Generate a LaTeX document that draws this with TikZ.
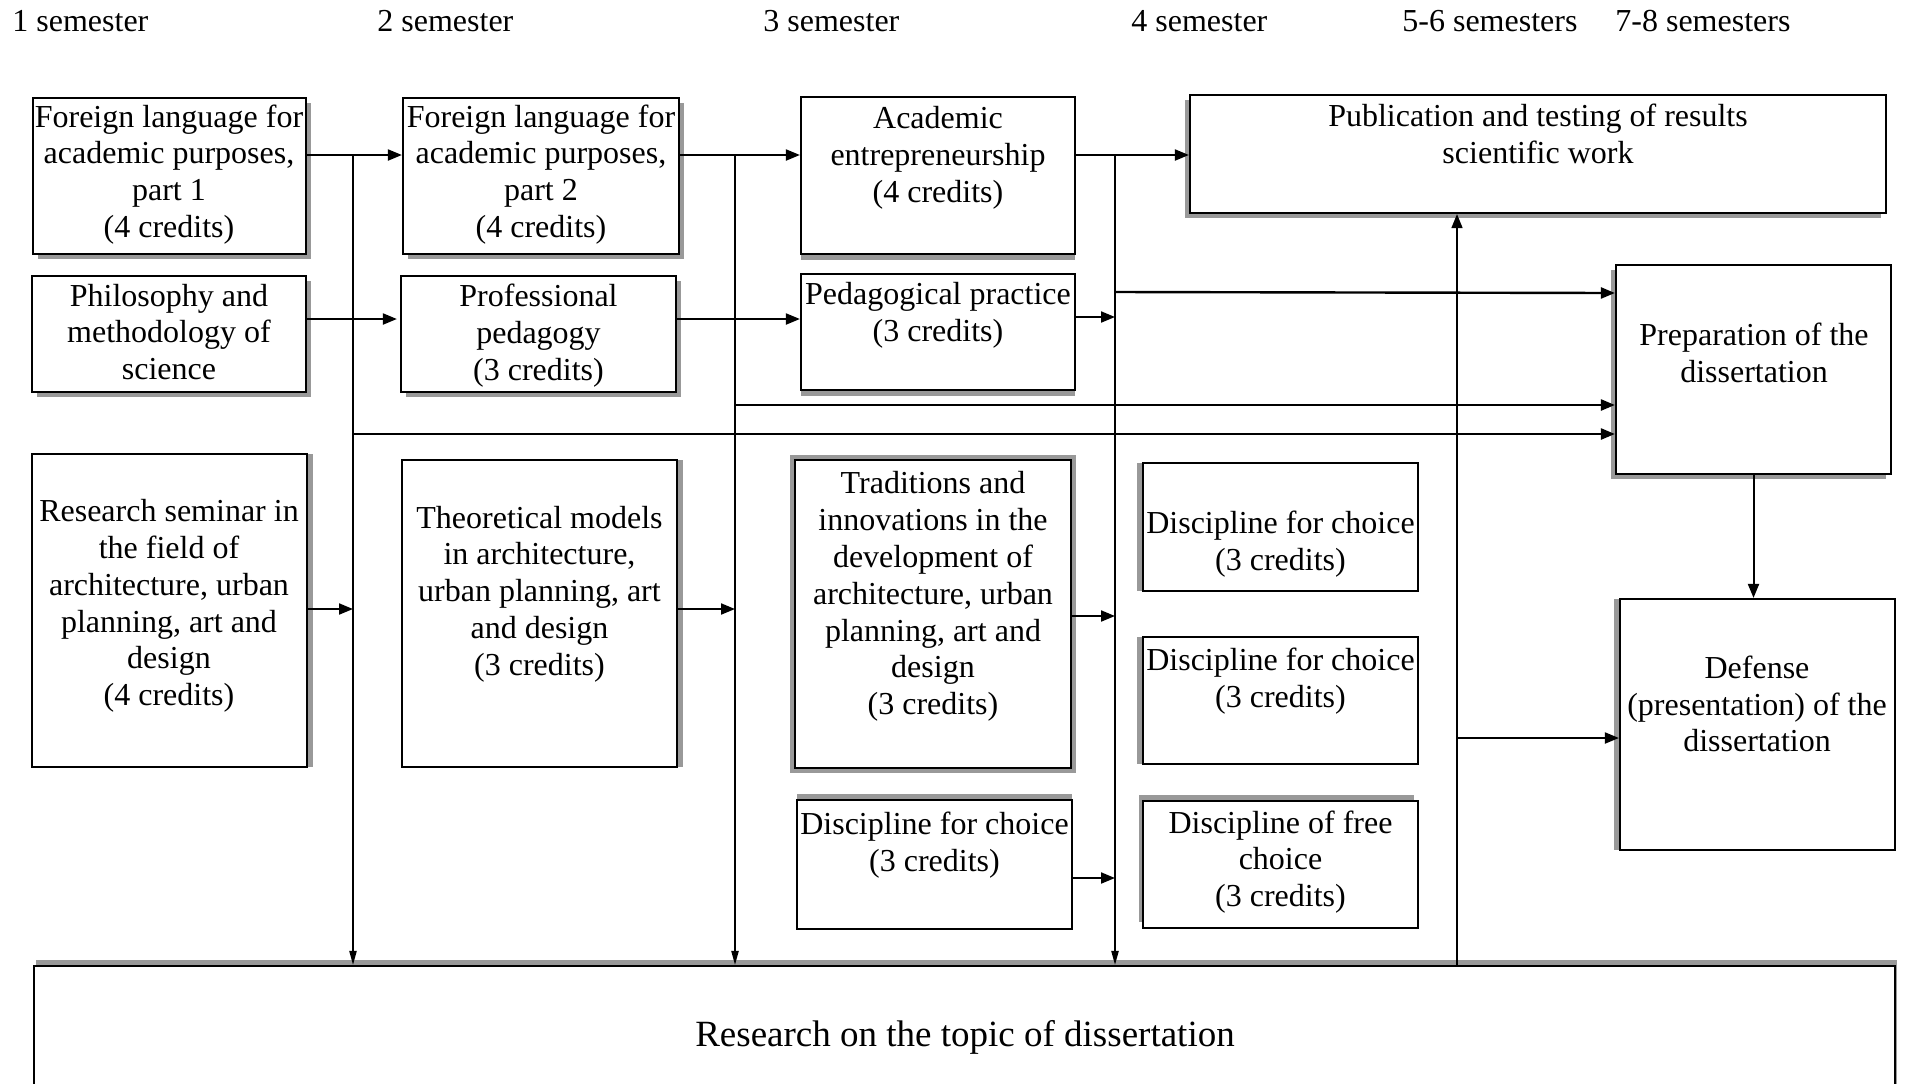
\documentclass[tikz,border=0pt]{standalone}
\usepackage{fontspec}
\setmainfont{Liberation Serif}
\usetikzlibrary{arrows.meta,fit,shadows,calc}
\definecolor{shd}{gray}{0.6}
\tikzset{
  box/.style={draw=black, line width=1.1pt, fill=white, inner sep=0pt, rectangle},
  txt/.style={align=center, inner sep=0pt, font=\fontsize{16pt}{18.4pt}\selectfont},
  hdr/.style={inner sep=0pt, anchor=base west, font=\fontsize{16pt}{18.4pt}\selectfont},
  sh/.style 2 args={drop shadow={shadow xshift=#1, shadow yshift=#2, fill=shd, opacity=1}},
  arr/.style={line width=1pt, -{Triangle[length=7pt,width=5.5pt]}},
  arrd/.style={line width=0.8pt, -{Triangle[length=7pt,width=3.6pt]}},
  arrp/.style={line width=1.2pt, -{Triangle[length=7pt,width=5.5pt]}},
}
\begin{document}
\begin{tikzpicture}[x=0.5pt,y=-0.5pt]
\clip (0,0) rectangle (1917,1083);
\fill[white] (0,0) rectangle (1917,1083);

% headers
\node[hdr] (h1) at (12,31) {1 semester};
\node[hdr] (h2) at (377,31) {2 semester};
\node[hdr] (h3) at (763,31) {3 semester};
\node[hdr] (h4) at (1131,31) {4 semester};
\node[hdr] (h5) at (1402,31) {5-6 semesters};
\node[hdr] (h6) at (1615,31) {7-8 semesters};

% boxes
\node[box, sh={2.5pt}{-2.5pt}, fit={(33,98) (306,254)}] (A1) {};
\node[box, sh={2.5pt}{-2.5pt}, fit={(403,98) (679,254)}] (A2) {};
\node[box, sh={0pt}{-3pt}, fit={(801,97) (1075,254)}] (A3) {};
\node[box, sh={-2.5pt}{-2.5pt}, fit={(1190,95) (1886,213)}] (Pub) {};
\node[box, sh={2.5pt}{-2.5pt}, fit={(32,276) (306,392)}] (B1) {};
\node[box, sh={2.5pt}{-2.5pt}, fit={(401,276) (676,392)}] (B2) {};
\node[box, sh={0pt}{-3pt}, fit={(801,274) (1075,390)}] (B3) {};
\node[box, sh={-2.5pt}{-2.5pt}, fit={(1616,265) (1891,474)}] (Prep) {};
\node[box, sh={3pt}{0pt}, fit={(32,454) (307,767)}] (C1) {};
\node[box, sh={3pt}{0pt}, fit={(402,460) (677,767)}] (C2) {};
\node[box, preaction={draw=shd, line width=5pt}, fit={(795,460) (1071,768)}] (C3) {};
\node[box, sh={-3pt}{0pt}, fit={(1143,463) (1418,591)}] (D4a) {};
\node[box, sh={-3pt}{0pt}, fit={(1143,637) (1418,764)}] (D4b) {};
\node[box, sh={0pt}{3pt}, fit={(797,800) (1072,929)}] (D3) {};
\node[box, sh={-2pt}{3pt}, fit={(1143,801) (1418,928)}] (D4c) {};
\node[box, sh={-3pt}{0pt}, fit={(1620,599) (1895,850)}] (Def) {};
\node[box, sh={1pt}{3pt}, fit={(34,966) (1895,1120)}] (R) {};

% texts
\node[txt] (A1t) at (169,174.5) {Foreign language for\\academic purposes,\\part 1\\(4 credits)};
\node[txt] (A2t) at (541,174.5) {Foreign language for\\academic purposes,\\part 2\\(4 credits)};
\node[txt] (A3t) at (938,158) {Academic\\entrepreneurship\\(4 credits)};
\node[txt] (Pubt) at (1538,133.5) {Publication and testing of results\\scientific work};
\node[txt] (B1t) at (169,332) {Philosophy and\\methodology of\\science};
\node[txt] (B2t) at (538.5,335.5) {Professional\\pedagogy\\(3 credits)};
\node[txt] (B3t) at (938,315) {Pedagogical practice\\(3 credits)};
\node[txt] (Prept) at (1754,352.5) {Preparation of the\\dissertation};
\node[txt] (C1t) at (169,606) {Research seminar in\\the field of\\architecture, urban\\planning, art and\\design\\(4 credits)};
\node[txt] (C2t) at (539.5,594) {Theoretical models\\in architecture,\\urban planning, art\\and design\\(3 credits)};
\node[txt] (C3t) at (933,596.5) {Traditions and\\innovations in the\\development of\\architecture, urban\\planning, art and\\design\\(3 credits)};
\node[txt] (D4at) at (1280.5,544) {Discipline for choice\\(3 credits)};
\node[txt] (D4bt) at (1280.5,681) {Discipline for choice\\(3 credits)};
\node[txt] (D3t) at (934.5,845) {Discipline for choice\\(3 credits)};
\node[txt] (D4ct) at (1280.5,862) {Discipline of free\\choice\\(3 credits)};
\node[txt] (Deft) at (1757,704) {Defense\\(presentation) of the\\dissertation};
\node[align=center, inner sep=0pt, font=\fontsize{18.5pt}{21pt}\selectfont] (Rt) at (965,1037.5) {Research on the topic of dissertation};

% junction coordinates
\coordinate (rA) at (0,155);
\coordinate (j1) at (353,155);
\coordinate (j2) at (735,155);
\coordinate (j3) at (1115,155);
\coordinate (j4) at (1457,966);

% row A
\draw[arr] (A1.east |- rA) -- (A2.west |- rA);
\draw[arr] (A2.east |- rA) -- (A3.west |- rA);
\draw[arr] (A3.east |- rA) -- (Pub.west |- rA);

% verticals
\draw[arrd] (j1) -- (j1 |- R.north);
\draw[arrd] (j2) -- (j2 |- R.north);
\draw[arrd] (j3) -- (j3 |- R.north);
\draw[arr, line width=0.8pt] (j4 |- R.north) -- (j4 |- Pub.south);

% row B
\coordinate (rB) at (0,319);
\draw[arr] (B1.east |- rB) -- ($(B2.west |- rB)+(-3,0)$);
\draw[arr] (B2.east |- rB) -- (B3.west |- rB);
\draw[arr] (B3.east |- 0,317) -- (j3 |- 0,317);

% to preparation
\draw[arrp] (j3 |- 0,292) -- (Prep.west |- 0,293);
\draw[arrp] (j2 |- 0,405) -- (Prep.west |- 0,405);
\draw[arrp] (j1 |- 0,434) -- (Prep.west |- 0,434);

% lower rows into verticals
\draw[arr] (C1.east |- 0,609) -- (j1 |- 0,609);
\draw[arr] (C2.east |- 0,609) -- (j2 |- 0,609);
\draw[arr] (C3.east |- 0,616) -- (j3 |- 0,616);
\draw[arr] (D3.east |- 0,878) -- (j3 |- 0,878);

% to defense
\draw[arr] (j4 |- 0,738) -- (Def.west |- 0,738);
\draw[arr] (Prep.south) -- (Prep.south |- Def.north);
\end{tikzpicture}
\end{document}
